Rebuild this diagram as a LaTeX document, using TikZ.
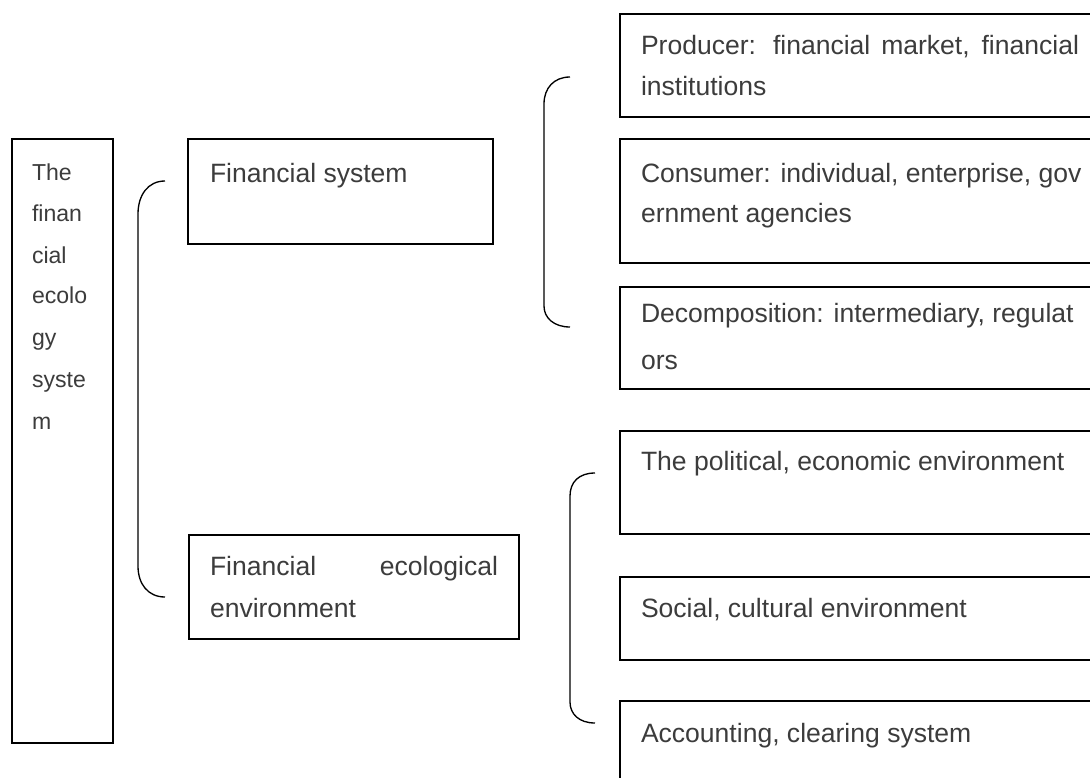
\documentclass[tikz,border=0pt]{standalone}
\usepackage{fontspec}
\setmainfont{Liberation Sans}
\definecolor{txtc}{RGB}{60,60,60}
\begin{document}
\begin{tikzpicture}[x=0.75pt,y=-0.75pt,
  box/.style={draw=black,line width=1.2pt},
  brc/.style={draw=black,line width=1pt},
  txt/.style={anchor=base west,inner sep=0pt,outer sep=0pt,text=txtc,font=\fontsize{19.9}{24}\selectfont},
  small/.style={anchor=base west,inner sep=0pt,outer sep=0pt,text=txtc,font=\fontsize{17.3}{21}\selectfont}]
\useasboundingbox (0,0) rectangle (1090,778);
\clip (0,0) rectangle (1090,778);
\fill[white] (0,0) rectangle (1090,778);
% boxes
\draw[box] (12,139) rectangle (113,743);
\draw[box] (188,139) rectangle (493,244);
\draw[box] (189,535) rectangle (519,639);
\draw[box] (620,14) rectangle (1110,117);
\draw[box] (620,139) rectangle (1110,263);
\draw[box] (620,287) rectangle (1110,389);
\draw[box] (620,431) rectangle (1110,534);
\draw[box] (620,577) rectangle (1110,660);
\draw[box] (620,701) rectangle (1110,800);
% left box text
\node[small] (l1) at (32,180) {The};
\node[small] (l2) at (32,221) {finan};
\node[small] (l3) at (32,263) {cial};
\node[small] (l4) at (32,303) {ecolo};
\node[small] (l5) at (32,345) {gy};
\node[small] (l6) at (32,387) {syste};
\node[small] (l7) at (32,429) {m};
% middle
\node[txt] (fs) at (210,182) {Financial system};
\node[txt] (fe1) at (210,575) {\makebox[216pt][s]{Financial ecological}};
\node[txt] (fe2) at (210,617) {environment};
% right
\node[txt] (p1) at (641,55) {\makebox[328.5pt][s]{Producer: financial market, financial}};
\node[txt] (p2) at (641,95) {institutions};
\node[txt] (c1) at (641,182) {Consumer: individual, enterprise, gov};
\node[txt] (c2) at (641,222) {ernment agencies};
\node[txt] (d1) at (641,322) {Decomposition: intermediary, regulat};
\node[txt] (d2) at (641,369) {ors};
\node[txt] (e1) at (641,470) {The political, economic environment};
\node[txt] (e2) at (641,617) {Social, cultural environment};
\node[txt] (e3) at (641,742) {Accounting, clearing system};
% braces
\coordinate (b1t) at (165,181);
\coordinate (b1b) at (165,597);
\draw[brc] (b1t) .. controls (148,181) and (138,195) .. (138,214) -- (138,566) .. controls (138,584) and (148,597) .. (b1b);
\coordinate (b2t) at (570,77);
\coordinate (b2b) at (570,327);
\draw[brc] (b2t) .. controls (554,77) and (544,88) .. (544,104) -- (544,306) .. controls (544,318) and (554,327) .. (b2b);
\coordinate (b3t) at (595,473);
\coordinate (b3b) at (595,723);
\draw[brc] (b3t) .. controls (579,473) and (570,482) .. (570,496) -- (570,702) .. controls (570,714) and (579,723) .. (b3b);
\end{tikzpicture}
\end{document}
